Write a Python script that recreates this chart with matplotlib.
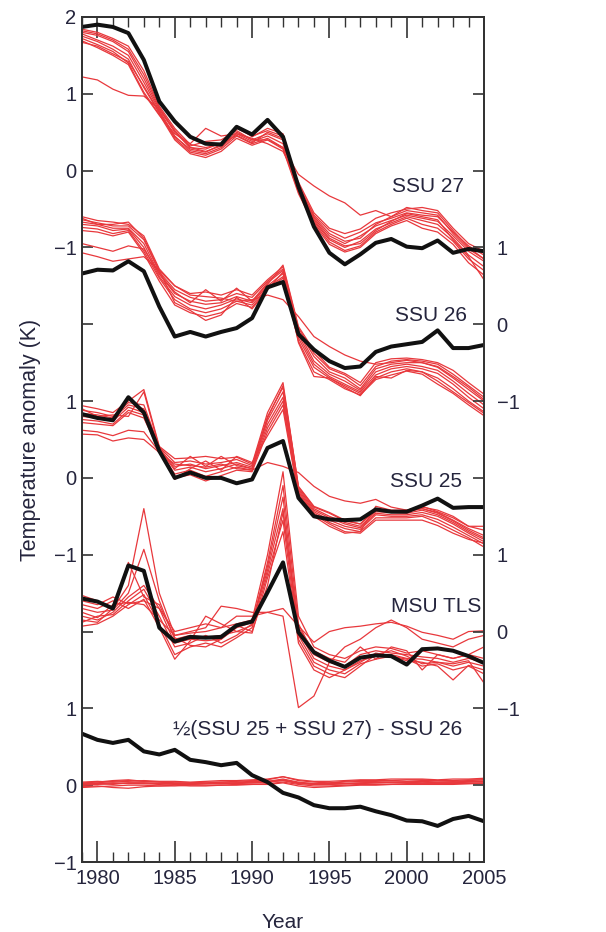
import numpy as np
import matplotlib
matplotlib.use("Agg")
import matplotlib.pyplot as plt
from matplotlib.ticker import FixedLocator, FixedFormatter, MultipleLocator

plt.rcParams['font.family'] = ['Liberation Sans', 'DejaVu Sans']

years = list(range(1979, 2006))

# ---------------- SSU 27 ----------------
ssu27_obs = [1.87, 1.90, 1.87, 1.79, 1.44, 0.90, 0.64, 0.44, 0.35, 0.34, 0.57, 0.47, 0.66, 0.44,
             -0.21, -0.73, -1.07, -1.22, -1.09, -0.94, -0.89, -0.99, -1.01, -0.91, -1.07, -1.02, -1.05]
ssu27_models = [
    [1.84, 1.80, 1.72, 1.62, 1.30, 0.84, 0.55, 0.34, 0.30, 0.35, 0.55, 0.45, 0.52, 0.45, -0.18, -0.58, -0.78, -0.88, -0.80, -0.68, -0.62, -0.55, -0.58, -0.60, -0.80, -0.98, -1.10],
    [1.80, 1.76, 1.68, 1.55, 1.20, 0.80, 0.50, 0.30, 0.25, 0.32, 0.50, 0.40, 0.48, 0.40, -0.22, -0.62, -0.85, -0.95, -0.85, -0.72, -0.65, -0.58, -0.62, -0.66, -0.85, -1.05, -1.18],
    [1.78, 1.70, 1.62, 1.50, 1.15, 0.78, 0.45, 0.26, 0.22, 0.30, 0.48, 0.38, 0.45, 0.35, -0.25, -0.66, -0.90, -1.00, -0.92, -0.76, -0.68, -0.60, -0.65, -0.70, -0.88, -1.10, -1.25],
    [1.75, 1.68, 1.58, 1.45, 1.08, 0.75, 0.42, 0.24, 0.20, 0.28, 0.45, 0.35, 0.42, 0.30, -0.28, -0.68, -0.93, -1.04, -0.98, -0.80, -0.70, -0.62, -0.70, -0.75, -0.92, -1.15, -1.30],
    [1.72, 1.64, 1.55, 1.40, 1.02, 0.73, 0.40, 0.22, 0.17, 0.25, 0.42, 0.33, 0.40, 0.28, -0.30, -0.70, -0.96, -1.06, -1.00, -0.82, -0.72, -0.65, -0.75, -0.80, -0.96, -1.20, -1.36],
    [1.69, 1.60, 1.50, 1.38, 1.00, 0.72, 0.48, 0.35, 0.55, 0.45, 0.48, 0.42, 0.35, 0.25, -0.15, -0.55, -0.75, -0.82, -0.76, -0.62, -0.55, -0.50, -0.48, -0.52, -0.75, -0.95, -1.05],
    [1.22, 1.18, 1.06, 0.98, 0.97, 0.80, 0.52, 0.32, 0.38, 0.40, 0.52, 0.40, 0.40, 0.30, -0.05, -0.20, -0.33, -0.42, -0.58, -0.52, -0.60, -0.48, -0.52, -0.55, -0.78, -1.00, -1.15],
    [1.82, 1.78, 1.70, 1.58, 1.25, 0.82, 0.52, 0.30, 0.28, 0.36, 0.58, 0.44, 0.55, 0.48, -0.20, -0.60, -0.82, -0.92, -0.88, -0.70, -0.60, -0.52, -0.55, -0.58, -0.82, -1.02, -1.15],
    [1.67, 1.62, 1.52, 1.42, 1.10, 0.76, 0.44, 0.28, 0.24, 0.34, 0.46, 0.36, 0.50, 0.42, -0.24, -0.64, -0.88, -0.98, -0.95, -0.78, -0.66, -0.56, -0.60, -0.64, -0.90, -1.12, -1.42],
]

# ---------------- SSU 26 ----------------
ssu26_obs = [0.66, 0.71, 0.70, 0.82, 0.69, 0.23, -0.16, -0.10, -0.16, -0.10, -0.05, 0.08, 0.48, 0.55,
             -0.13, -0.33, -0.48, -0.57, -0.55, -0.36, -0.29, -0.26, -0.23, -0.08, -0.31, -0.31, -0.27]
ssu26_models = [
    [1.40, 1.35, 1.33, 1.30, 1.15, 0.72, 0.50, 0.40, 0.42, 0.38, 0.45, 0.38, 0.58, 0.75, -0.05, -0.38, -0.58, -0.66, -0.80, -0.55, -0.48, -0.46, -0.48, -0.52, -0.65, -0.80, -0.95],
    [1.36, 1.32, 1.28, 1.28, 1.10, 0.68, 0.45, 0.35, 0.30, 0.32, 0.40, 0.35, 0.56, 0.72, -0.08, -0.42, -0.62, -0.70, -0.84, -0.58, -0.52, -0.50, -0.50, -0.56, -0.70, -0.85, -1.00],
    [1.33, 1.30, 1.25, 1.25, 1.05, 0.65, 0.40, 0.30, 0.26, 0.28, 0.36, 0.30, 0.54, 0.70, -0.10, -0.48, -0.65, -0.74, -0.86, -0.62, -0.55, -0.52, -0.55, -0.60, -0.74, -0.90, -1.05],
    [1.30, 1.28, 1.22, 1.24, 1.00, 0.62, 0.36, 0.25, 0.20, 0.25, 0.33, 0.28, 0.50, 0.66, -0.14, -0.52, -0.68, -0.78, -0.88, -0.66, -0.58, -0.55, -0.58, -0.64, -0.78, -0.95, -1.10],
    [1.26, 1.24, 1.18, 1.22, 0.95, 0.60, 0.32, 0.20, 0.15, 0.20, 0.30, 0.25, 0.48, 0.62, -0.18, -0.56, -0.70, -0.80, -0.90, -0.70, -0.62, -0.58, -0.62, -0.70, -0.84, -1.00, -1.14],
    [1.22, 1.20, 1.15, 1.20, 0.92, 0.56, 0.25, 0.15, 0.10, 0.15, 0.27, 0.22, 0.46, 0.60, -0.22, -0.62, -0.72, -0.84, -0.92, -0.72, -0.66, -0.61, -0.65, -0.78, -0.90, -1.05, -1.19],
    [0.93, 0.88, 0.82, 0.85, 0.88, 0.70, 0.50, 0.38, 0.36, 0.34, 0.30, 0.32, 0.38, 0.32, 0.10, -0.16, -0.29, -0.40, -0.48, -0.52, -0.50, -0.47, -0.50, -0.55, -0.68, -0.82, -0.98],
    [1.05, 1.00, 0.95, 1.02, 0.98, 0.66, 0.42, 0.28, 0.45, 0.30, 0.47, 0.30, 0.52, 0.77, -0.03, -0.34, -0.56, -0.64, -0.76, -0.50, -0.45, -0.44, -0.46, -0.50, -0.60, -0.76, -0.91],
    [1.38, 1.30, 1.30, 1.33, 1.12, 0.70, 0.28, 0.18, 0.05, 0.12, 0.35, 0.20, 0.45, 0.68, -0.24, -0.68, -0.70, -0.82, -0.93, -0.68, -0.70, -0.60, -0.62, -0.74, -0.88, -1.02, -1.16],
]

# ---------------- SSU 25 ----------------
ssu25_obs = [0.83, 0.78, 0.75, 1.05, 0.85, 0.35, 0.00, 0.07, 0.00, 0.00, -0.07, -0.02, 0.39, 0.48,
             -0.26, -0.50, -0.54, -0.55, -0.54, -0.41, -0.44, -0.44, -0.36, -0.27, -0.39, -0.38, -0.38]
ssu25_models = [
    [0.94, 0.90, 0.85, 1.00, 1.15, 0.41, 0.25, 0.26, 0.28, 0.25, 0.27, 0.18, 0.85, 1.24, -0.12, -0.38, -0.46, -0.56, -0.60, -0.40, -0.43, -0.44, -0.40, -0.45, -0.55, -0.66, -0.75],
    [0.88, 0.85, 0.80, 0.98, 0.95, 0.40, 0.20, 0.22, 0.18, 0.20, 0.24, 0.16, 0.80, 1.18, -0.14, -0.40, -0.50, -0.58, -0.63, -0.44, -0.45, -0.46, -0.42, -0.48, -0.58, -0.70, -0.80],
    [0.84, 0.82, 0.78, 0.95, 0.90, 0.38, 0.15, 0.18, 0.12, 0.16, 0.20, 0.14, 0.75, 1.12, -0.16, -0.42, -0.52, -0.60, -0.65, -0.46, -0.48, -0.48, -0.45, -0.50, -0.60, -0.72, -0.83],
    [0.80, 0.78, 0.74, 0.92, 0.85, 0.37, 0.10, 0.14, 0.08, 0.12, 0.18, 0.12, 0.70, 1.05, -0.18, -0.44, -0.55, -0.63, -0.67, -0.48, -0.50, -0.50, -0.48, -0.54, -0.64, -0.75, -0.86],
    [0.76, 0.74, 0.70, 0.88, 0.82, 0.36, 0.05, 0.10, 0.02, 0.08, 0.14, 0.10, 0.65, 1.00, -0.20, -0.46, -0.58, -0.66, -0.70, -0.52, -0.52, -0.52, -0.50, -0.58, -0.68, -0.78, -0.90],
    [0.72, 0.70, 0.68, 0.85, 0.78, 0.35, 0.00, 0.04, -0.04, 0.03, 0.10, 0.08, 0.60, 0.95, -0.22, -0.48, -0.60, -0.70, -0.72, -0.55, -0.55, -0.55, -0.55, -0.62, -0.72, -0.80, -0.85],
    [0.57, 0.56, 0.48, 0.52, 0.50, 0.33, 0.18, 0.16, 0.14, 0.18, 0.12, 0.10, 0.20, 0.15, 0.07, -0.11, -0.24, -0.30, -0.33, -0.28, -0.38, -0.42, -0.37, -0.44, -0.52, -0.63, -0.68],
    [0.62, 0.60, 0.55, 0.62, 0.60, 0.34, -0.02, 0.12, 0.22, 0.10, 0.28, 0.20, 0.55, 0.89, -0.24, -0.50, -0.63, -0.72, -0.70, -0.37, -0.42, -0.42, -0.38, -0.42, -0.50, -0.63, -0.63],
    [0.90, 0.80, 0.82, 0.80, 1.12, 0.39, 0.12, 0.28, 0.15, 0.28, 0.16, 0.12, 0.78, 1.20, -0.11, -0.37, -0.45, -0.55, -0.60, -0.42, -0.44, -0.43, -0.40, -0.46, -0.56, -0.68, -0.78],
]

# ---------------- MSU TLS ----------------
tls_obs = [0.43, 0.39, 0.30, 0.86, 0.79, 0.05, -0.13, -0.07, -0.08, -0.07, 0.08, 0.13, 0.51, 0.90,
           -0.01, -0.27, -0.38, -0.46, -0.34, -0.31, -0.32, -0.43, -0.23, -0.22, -0.25, -0.32, -0.41]
tls_models = [
    [0.47, 0.40, 0.30, 0.60, 1.60, 0.50, -0.05, -0.02, 0.00, 0.05, 0.10, 0.15, 1.00, 2.08, 0.20, -0.20, -0.30, -0.35, -0.25, -0.20, -0.22, -0.28, -0.25, -0.30, -0.35, -0.30, -0.35],
    [0.30, 0.25, 0.28, 0.50, 1.07, 0.40, -0.10, -0.05, -0.08, -0.05, 0.00, 0.08, 0.90, 1.90, 0.10, -0.30, -0.40, -0.45, -0.30, -0.25, -0.28, -0.30, -0.33, -0.35, -0.40, -0.35, -0.40],
    [0.20, 0.15, 0.25, 0.45, 0.60, 0.30, -0.15, -0.10, -0.12, -0.10, 0.05, 0.12, 0.85, 1.75, 0.00, -0.35, -0.45, -0.50, -0.38, -0.32, -0.30, -0.35, -0.36, -0.40, -0.45, -0.40, -0.45],
    [0.12, 0.20, 0.22, 0.40, 0.55, 0.20, -0.20, -0.15, -0.05, -0.15, -0.05, 0.10, 0.80, 1.60, -0.05, -0.40, -0.50, -0.55, -0.42, -0.36, -0.32, -0.38, -0.40, -0.45, -0.63, -0.44, -0.50],
    [0.07, 0.10, 0.20, 0.35, 0.48, 0.10, -0.30, -0.20, -0.15, -0.20, -0.08, 0.05, 0.75, 1.45, -0.10, -0.45, -0.55, -0.60, -0.45, -0.30, -0.25, -0.32, -0.42, -0.40, -0.42, -0.38, -0.67],
    [0.35, 0.30, 0.40, 0.30, 0.42, 0.05, -0.36, -0.12, 0.20, 0.10, 0.00, -0.02, 0.70, 1.30, -0.15, -0.50, -0.60, -0.50, -0.40, -0.28, -0.32, -0.36, -0.45, -0.42, -0.50, -0.45, -0.55],
    [0.25, 0.18, 0.35, 0.38, 0.35, 0.15, -0.05, 0.00, 0.05, 0.33, 0.30, 0.25, 0.25, 0.20, -0.99, -0.84, -0.40, -0.20, -0.10, 0.05, 0.15, 0.05, -0.10, -0.15, -0.20, -0.10, -0.05],
    [0.40, 0.35, 0.45, 0.36, 0.40, 0.30, 0.00, 0.05, 0.10, 0.05, 0.20, 0.20, 0.25, 0.30, 0.07, -0.14, 0.00, 0.05, 0.07, 0.10, 0.12, 0.07, -0.01, -0.05, -0.10, 0.00, 0.01],
    [0.15, 0.12, 0.30, 0.90, 0.45, 0.35, -0.08, -0.18, -0.20, -0.10, 0.08, 0.00, 0.60, 1.55, 0.05, -0.25, -0.35, -0.40, -0.20, -0.36, -0.20, -0.25, -0.50, -0.30, -0.35, -0.30, -0.20],
]

# ---------------- 1/2(SSU25 + SSU27) - SSU26 ----------------
diff_obs = [0.67, 0.59, 0.55, 0.59, 0.44, 0.40, 0.46, 0.33, 0.30, 0.26, 0.29, 0.13, 0.04, -0.10,
            -0.16, -0.26, -0.30, -0.30, -0.28, -0.34, -0.39, -0.46, -0.47, -0.53, -0.44, -0.40, -0.47]
diff_models = [
    [0.03, 0.04, 0.06, 0.07, 0.05, 0.04, 0.03, 0.03, 0.04, 0.04, 0.05, 0.06, 0.07, 0.11, 0.06, 0.04, 0.03, 0.05, 0.06, 0.06, 0.06, 0.07, 0.07, 0.06, 0.06, 0.07, 0.07],
    [0.00, 0.01, 0.02, 0.03, 0.03, 0.02, 0.01, 0.01, 0.02, 0.02, 0.03, 0.03, 0.04, 0.07, 0.03, 0.01, 0.01, 0.02, 0.03, 0.03, 0.04, 0.04, 0.05, 0.04, 0.04, 0.05, 0.05],
    [-0.03, -0.02, -0.01, 0.00, 0.00, -0.01, -0.01, 0.00, 0.00, 0.00, 0.01, 0.01, 0.02, 0.04, 0.01, -0.01, -0.01, 0.00, 0.01, 0.01, 0.01, 0.02, 0.02, 0.02, 0.02, 0.02, 0.03],
    [0.01, 0.03, 0.05, 0.06, 0.05, 0.04, 0.03, 0.03, 0.03, 0.04, 0.04, 0.05, 0.05, 0.08, 0.04, 0.02, 0.03, 0.04, 0.05, 0.05, 0.06, 0.05, 0.06, 0.06, 0.05, 0.06, 0.07],
    [-0.02, -0.01, -0.03, -0.04, -0.02, -0.01, 0.00, -0.01, -0.01, 0.00, 0.00, 0.01, 0.01, 0.03, -0.01, -0.03, -0.02, -0.01, 0.00, 0.00, 0.01, 0.01, 0.01, 0.01, 0.01, 0.02, 0.02],
    [0.04, 0.05, 0.04, 0.05, 0.06, 0.05, 0.05, 0.04, 0.05, 0.06, 0.06, 0.07, 0.08, 0.11, 0.07, 0.05, 0.05, 0.06, 0.07, 0.07, 0.08, 0.08, 0.08, 0.07, 0.08, 0.08, 0.09],
    [0.00, 0.02, 0.03, 0.02, 0.02, 0.01, 0.02, 0.02, 0.02, 0.02, 0.03, 0.04, 0.05, 0.06, 0.03, 0.02, 0.02, 0.02, 0.03, 0.04, 0.04, 0.04, 0.04, 0.04, 0.04, 0.04, 0.05],
    [0.02, 0.02, 0.01, 0.03, 0.03, 0.02, 0.02, 0.01, 0.02, 0.03, 0.02, 0.03, 0.04, 0.06, 0.02, 0.01, 0.01, 0.02, 0.02, 0.03, 0.03, 0.03, 0.04, 0.03, 0.03, 0.04, 0.04],
]

panel_labels = ["SSU 27", "SSU 26", "SSU 25", "MSU TLS", "\u00bd(SSU 25 + SSU 27) - SSU 26"]

# ---------------- layout / style ----------------
offsets = [0, -2, -4, -6, -8]
label_pos = [(2003.7, -0.21), (2003.9, -1.88), (2003.6, -4.05), (2004.8, -5.67), (2003.6, -7.27)]
RED = '#e8383c'
BLACK = '#111111'
TXT = '#25253d'

fig = plt.figure(figsize=(6.06, 9.32), dpi=100)
ax = fig.add_axes([0.1353, 0.0751, 0.6634, 0.9067])

series = [(ssu27_obs, ssu27_models), (ssu26_obs, ssu26_models), (ssu25_obs, ssu25_models),
          (tls_obs, tls_models), (diff_obs, diff_models)]
yrs = np.array(years)
for (obs, models), off in zip(series, offsets):
    for m in models:
        ax.plot(yrs, np.array(m) + off, color=RED, lw=0.9, zorder=2)
for (obs, models), off in zip(series, offsets):
    ax.plot(yrs, np.array(obs) + off, color=BLACK, lw=2.9, zorder=3)

for txt, (x, y) in zip(panel_labels, label_pos):
    ax.text(x, y, txt, ha='right', va='center', fontsize=15, color=TXT)

ax.set_xlim(1979, 2005)
ax.set_ylim(-9, 2)

yt = list(range(-9, 3))
left_lab = {2: '2', 1: '1', 0: '0', -1: '\u22121', -3: '1', -4: '0', -5: '\u22121',
            -7: '1', -8: '0', -9: '\u22121'}
right_lab = {-1: '1', -2: '0', -3: '\u22121', -5: '1', -6: '0', -7: '\u22121'}

ax.yaxis.set_major_locator(FixedLocator(yt))
ax.yaxis.set_major_formatter(FixedFormatter([left_lab.get(t, '') for t in yt]))
ax.xaxis.set_major_locator(FixedLocator([1980, 1985, 1990, 1995, 2000, 2005]))
ax.xaxis.set_minor_locator(MultipleLocator(1))

ax.tick_params(axis='both', which='both', direction='in', top=True, right=True,
               colors='#333333', labelcolor=TXT, labelsize=14.5)
ax.tick_params(axis='x', which='major', length=15, width=1.2, pad=5)
ax.tick_params(axis='x', which='minor', length=7, width=1.0)
ax.tick_params(axis='y', which='major', length=8, width=1.2, pad=4)

ax2 = ax.twinx()
ax2.set_ylim(-9, 2)
ax2.yaxis.set_major_locator(FixedLocator(yt))
ax2.yaxis.set_major_formatter(FixedFormatter([right_lab.get(t, '') for t in yt]))
ax2.tick_params(axis='y', which='major', direction='in', length=8, width=1.2, pad=9,
                colors='#333333', labelcolor=TXT, labelsize=14.5)

for a in (ax, ax2):
    for s in a.spines.values():
        s.set_linewidth(1.3)
        s.set_color('#333333')

ax.set_xlabel('Year', fontsize=15, color=TXT, labelpad=18)
ax.set_ylabel('Temperature anomaly (K)', fontsize=15.5, color=TXT)
ax.yaxis.set_label_coords(-0.102, 0.5)

fig.savefig('out.png', dpi=100)
